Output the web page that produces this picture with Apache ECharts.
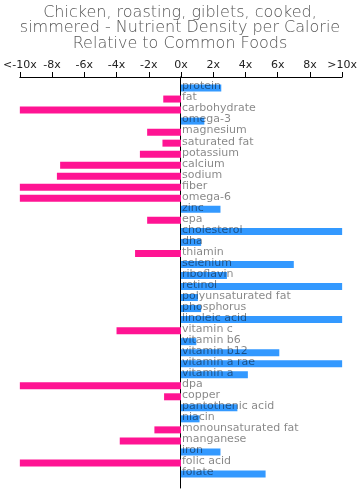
<!DOCTYPE html>
<html><head><meta charset="utf-8">
<script src="https://cdn.jsdelivr.net/npm/echarts@6/dist/echarts.min.js"></script>
<style>html,body{margin:0;padding:0;background:#fff}#c{width:360px;height:498px}</style>
</head><body><div id="c"></div>
<script>
var titleText = "Chicken, roasting, giblets, cooked,\nsimmered - Nutrient Density per Calorie\nRelative to Common Foods";
var categories = ["protein","fat","carbohydrate","omega-3","magnesium","saturated fat","potassium","calcium","sodium","fiber","omega-6","zinc","epa","cholesterol","dha","thiamin","selenium","riboflavin","retinol","polyunsaturated fat","phosphorus","linoleic acid","vitamin c","vitamin b6","vitamin b12","vitamin a rae","vitamin a","dpa","copper","pantothenic acid","niacin","monounsaturated fat","manganese","iron","folic acid","folate"];
var values = [2.5,-1.1,-10,1.45,-2.1,-1.15,-2.55,-7.5,-7.7,-10,-10,2.45,-2.1,10,1.25,-2.85,7.0,2.85,10,1.05,1.25,10,-4.0,0.95,6.1,10,4.15,-10,-1.05,3.5,1.15,-1.65,-3.8,2.45,-10,5.25];
var tickLabels = {"-10":"<-10x","-8":"-8x","-6":"-6x","-4":"-4x","-2":"-2x","0":"0x","2":"2x","4":"4x","6":"6x","8":"8x","10":">10x"};
var posColor = "#3399ff", negColor = "#ff1493";

var chart = echarts.init(document.getElementById('c'), null, {renderer:'canvas'});
chart.setOption({
  animation:false,
  title:{text:titleText,left:'center',top:0,textStyle:{fontFamily:'DejaVu Sans',fontSize:16,fontWeight:'lighter',color:'#555',lineHeight:15.5}},
  grid:[{left:15,right:15,top:82.5,bottom:18.5},{left:15,right:15,top:77,bottom:10}],
  xAxis:[{gridIndex:0,type:'value',min:-10,max:10,interval:2,position:'top',offset:5.5,
    axisLine:{show:true,lineStyle:{color:'#000',width:1}},axisTick:{show:true,length:5,lineStyle:{color:'#000'}},
    splitLine:{show:false},
    axisLabel:{fontFamily:'DejaVu Sans',fontSize:11,color:'#222',margin:6,formatter:function(v){return tickLabels[String(v)]||'';}}},
    {gridIndex:1,type:'value',min:-10,max:10,show:false}],
  yAxis:[{gridIndex:0,type:'category',data:categories,inverse:true,show:false},
    {gridIndex:1,type:'value',min:0,max:1,axisLine:{show:true,onZero:true,lineStyle:{color:'#000',width:1}},axisTick:{show:false},axisLabel:{show:false},splitLine:{show:false}}],
  series:[
    {type:'bar',xAxisIndex:0,yAxisIndex:0,barWidth:7,z:2,
     data:values.map(function(v){return {value:v,itemStyle:{color:v>=0?posColor:negColor}};})},
    {type:'scatter',xAxisIndex:0,yAxisIndex:0,symbolSize:0,z:5,
     data:categories.map(function(c){return [0,c];}),
     label:{show:true,position:'right',distance:1,offset:[0,-1.5],fontFamily:'DejaVu Sans',fontSize:11,color:'rgba(0,0,0,0.6)',
       formatter:function(p){return p.value[1];}}}
  ]
});
</script></body></html>
